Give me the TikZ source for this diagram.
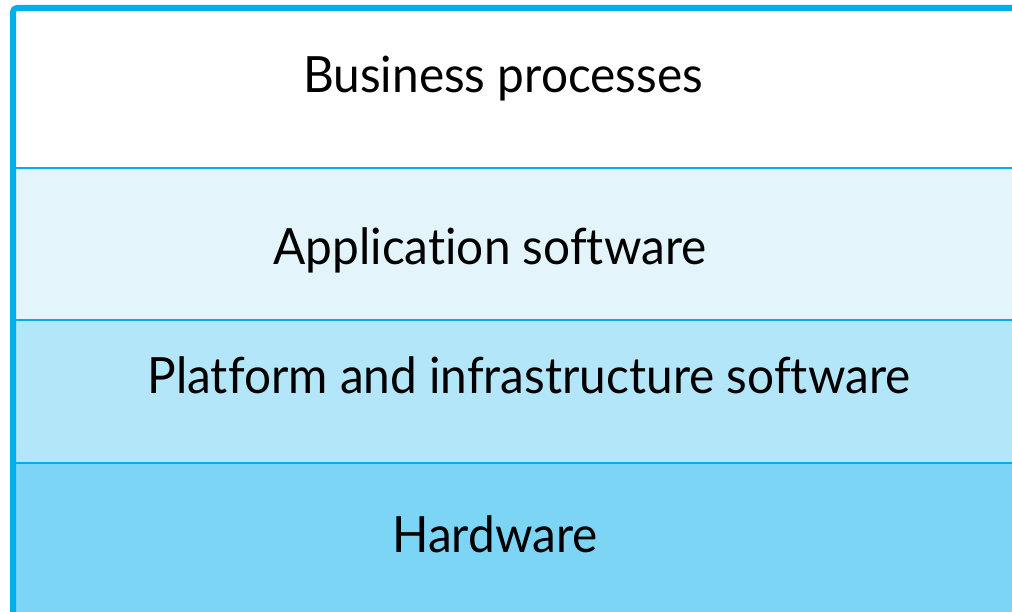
\documentclass[tikz,border=0pt]{standalone}
\usepackage{fontspec}
\setmainfont[Ligatures={NoCommon}]{Lato}
\usepackage{tikz}
\definecolor{edgeblue}{HTML}{00AEEF}
\definecolor{tintA}{HTML}{E3F4FB}
\definecolor{tintB}{HTML}{B2E6F8}
\definecolor{tintC}{HTML}{7DD5F6}
\tikzstyle{lbl}=[anchor=base, inner sep=0pt, xscale=.955, transform shape, font=\fontsize{50}{60}\selectfont]
\tikzstyle{divider}=[draw=edgeblue, line width=2.5pt]

\begin{document}
\begin{tikzpicture}[x=1pt, y=1pt]
    \useasboundingbox (0,0) rectangle (1012,612);
    \clip (0,0) rectangle (1012,612);
    % the four layers
    \fill[white] (13,604) rectangle (1030,444);
    \fill[tintA] (13,444) rectangle (1030,292);
    \fill[tintB] (13,292) rectangle (1030,149);
    \fill[tintC] (13,149) rectangle (1030,-10);
    \coordinate (l1) at (13,444);
    \coordinate (r1) at (1030,444);
    \coordinate (l2) at (13,292);
    \coordinate (r2) at (1030,292);
    \coordinate (l3) at (13,149);
    \coordinate (r3) at (1030,149);
    \foreach \from/\to in {l1/r1, l2/r2, l3/r3}
    \draw[divider] (\from) -- (\to);
    \draw[edgeblue, line width=6pt, rounded corners=4pt]
      (13,-10) -- (13,604) -- (1030,604);
    \node[lbl] (bp) at (503,519) {Business processes};
    \node[lbl] (as) at (490,347) {Application software};
    \node[lbl] (pi) at (529,218) {Platform and infrastructure software};
    \node[lbl] (hw) at (495,59) {Hardware};
\end{tikzpicture}
\end{document}
